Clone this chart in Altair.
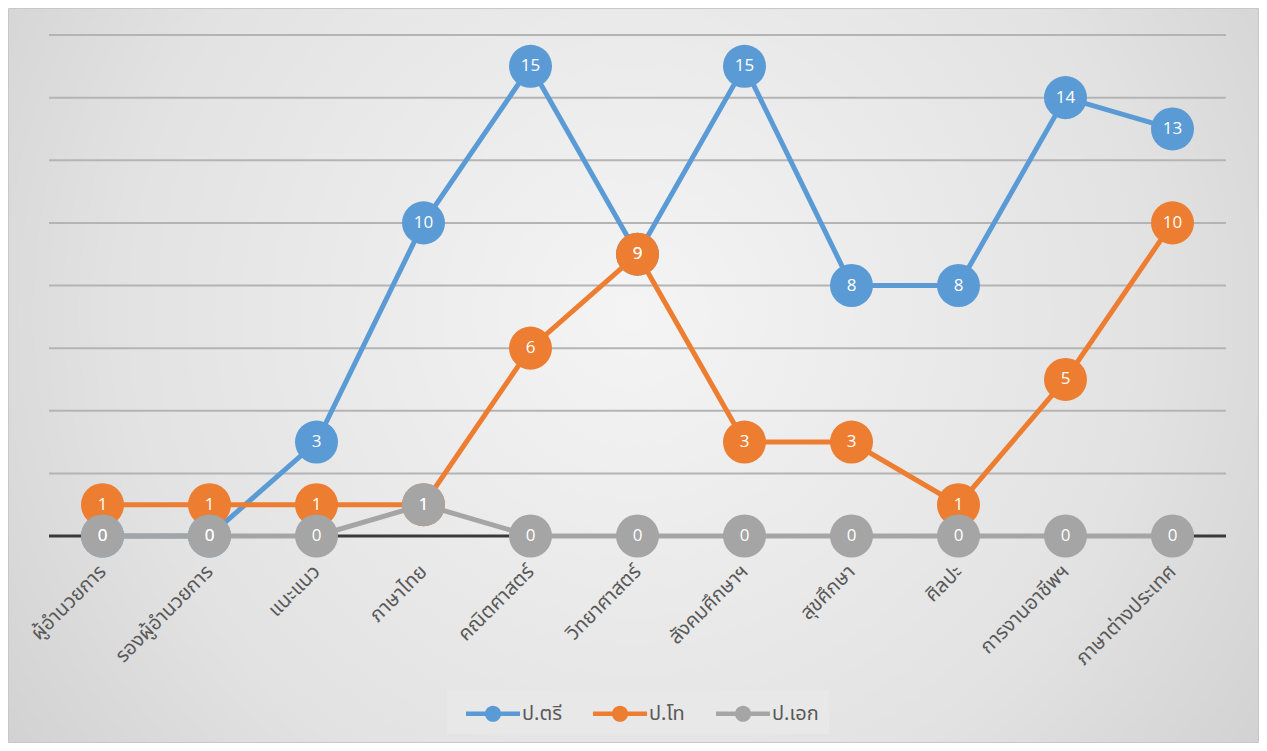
import altair as alt
import pandas as pd

categories = ["ผู้อำนวยการ", "รองผู้อำนวยการ", "แนะแนว", "ภาษาไทย", "คณิตศาสตร์",
              "วิทยาศาสตร์", "สังคมศึกษาฯ", "สุขศึกษา", "ศิลปะ", "การงานอาชีพฯ", "ภาษาต่างประเทศ"]
bachelor = [0, 0, 3, 10, 15, 9, 15, 8, 8, 14, 13]
master = [1, 1, 1, 1, 6, 9, 3, 3, 1, 5, 10]
doctor = [0, 0, 0, 1, 0, 0, 0, 0, 0, 0, 0]
series_names = ["ป.ตรี", "ป.โท", "ป.เอก"]
series_colors = ["#5b9bd5", "#ed7d31", "#a5a5a5"]
grid_values = [2, 4, 6, 8, 10, 12, 14, 16]
y_max = 16

rows = []
for name, vals in zip(series_names, [bachelor, master, doctor]):
    for i, (c, v) in enumerate(zip(categories, vals)):
        rows.append({"cat": c, "series": name, "value": v, "order": i})
df = pd.DataFrame(rows)

W, H = 1177, 501
PL, PT, PR, PB = 41, 27, 33, 207
FONT = "Noto Sans Thai, Leelawadee UI, Tahoma, Noto Sans, sans-serif"

y_scale = alt.Scale(domain=[0, y_max], nice=False, zero=True)

x_enc = alt.X("cat:N", sort=categories, title=None,
              scale=alt.Scale(paddingInner=0, paddingOuter=0.5),
              axis=alt.Axis(labelAngle=315, labelAlign="right", labelBaseline="middle",
                            labelPadding=32, labelFontSize=20, labelColor="#595959",
                            labelFont=FONT, ticks=False, domain=False, grid=False,
                            labelLimit=300, zindex=1))
y_enc = alt.Y("value:Q", title=None, scale=y_scale, axis=None)

fill_scale = alt.Scale(domain=series_names, range=series_colors)
legend = alt.Legend(orient="none", legendX=398, legendY=655, direction="horizontal",
                    title=None, columns=3, labelFontSize=20, labelColor="#595959",
                    labelFont=FONT, fillColor="#e8e8e8", padding=10,
                    symbolType="M-0.33,-0.16 L3.67,-0.16 L3.67,0.16 L-0.33,0.16 Z M2.27,0 A0.6,0.6 0 1,1 1.07,0 A0.6,0.6 0 1,1 2.27,0 Z",
                    symbolSize=729, symbolStrokeWidth=0, symbolOpacity=1,
                    labelOffset=38, columnPadding=22)

bg = alt.Chart(pd.DataFrame({"a": [0]})).mark_rect(
    fill=alt.RadialGradient(gradient="radial", x1=0.5, y1=0.45, r1=0, x2=0.5, y2=0.45, r2=0.75,
                            stops=[alt.GradientStop(offset=0, color="#f4f4f4"),
                                   alt.GradientStop(offset=0.55, color="#e2e2e2"),
                                   alt.GradientStop(offset=1, color="#c6c6c6")]),
    stroke="#c8c8c8", strokeWidth=1
).encode(x=alt.value(-PL + 0.5), x2=alt.value(W + PR - 0.5),
         y=alt.value(-PT + 0.5), y2=alt.value(H + PB - 0.5))

grid = alt.Chart(pd.DataFrame({"v": grid_values})).mark_rule(
    color="#b4b4b4", strokeWidth=2
).encode(y=alt.Y("v:Q", scale=y_scale, axis=None), x=alt.value(0), x2=alt.value(W))

zero_line = alt.Chart(pd.DataFrame({"v": [0]})).mark_rule(
    color="#3a3a3a", strokeWidth=3
).encode(y=alt.Y("v:Q", scale=y_scale, axis=None), x=alt.value(0), x2=alt.value(W))

base = alt.Chart(df).encode(x=x_enc, y=y_enc)

layers = [bg, grid, zero_line]
for name, color in zip(series_names, series_colors):
    sub = base.transform_filter(alt.datum.series == name)
    layers.append(sub.mark_line(stroke=color, strokeWidth=5).encode(order="order:Q"))
    layers.append(sub.mark_circle(size=1850, opacity=1).encode(
        fill=alt.Fill("series:N", scale=fill_scale, legend=legend)))

layers.append(base.mark_text(color="white", fontSize=17, font="Open Sans", baseline="middle").encode(
    text="value:Q"))

chart = alt.layer(*layers).properties(
    width=W, height=H,
    autosize=alt.AutoSizeParams(type="none"),
    padding={"left": PL, "top": PT, "right": PR, "bottom": PB},
    background="white"
).configure_view(strokeWidth=0)

chart.save("out.html", embed_options={"renderer": "svg", "actions": False})
